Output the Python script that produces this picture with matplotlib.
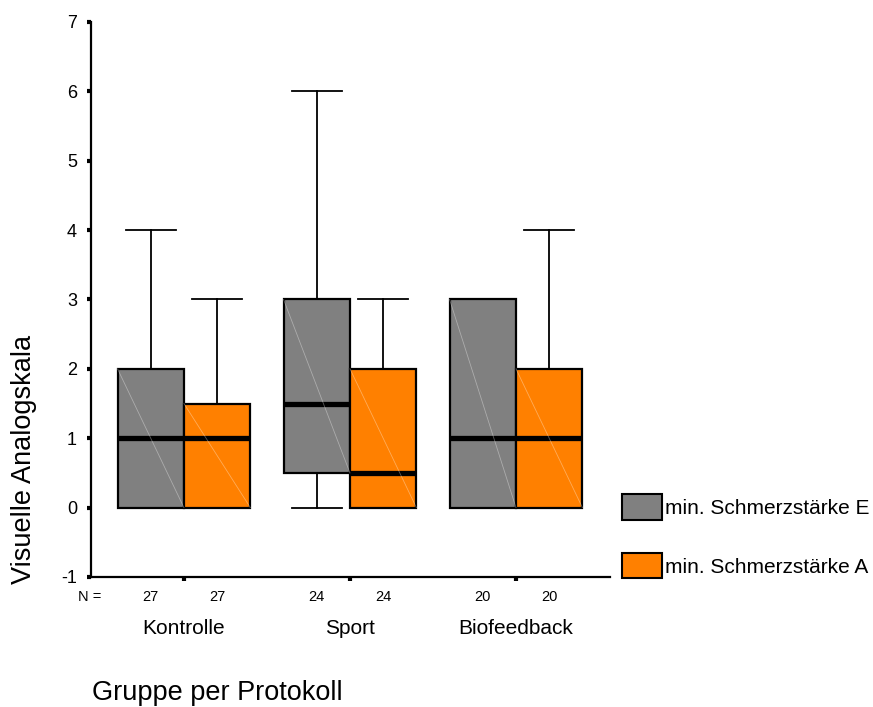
import matplotlib
matplotlib.use('Agg')
import matplotlib.pyplot as plt
from matplotlib.patches import Patch

plt.rcParams['font.family'] = ['Liberation Sans', 'DejaVu Sans']
plt.rcParams['axes.unicode_minus'] = False

groups = ['Kontrolle', 'Sport', 'Biofeedback']
n_counts = [27, 24, 20]

# min. Schmerzstaerke E
e_q1 = [0, 0.5, 0]
e_med = [1, 1.5, 1]
e_q3 = [2, 3, 3]
e_lo = [0, 0, 0]
e_hi = [4, 6, 3]

# min. Schmerzstaerke A
a_q1 = [0, 0, 0]
a_med = [1, 0.5, 1]
a_q3 = [1.5, 2, 2]
a_lo = [0, 0, 0]
a_hi = [3, 3, 4]

series_labels = ['min. Schmerzstärke E', 'min. Schmerzstärke A']
colors = ['#808080', '#ff8000']

fig = plt.figure(figsize=(8.73, 7.07), dpi=100)
ax = fig.add_axes([0.1042, 0.1839, 0.5945, 0.785])

centers = [1, 2, 3]
offset = 0.2
width = 0.4

series = [(e_q1, e_med, e_q3, e_lo, e_hi), (a_q1, a_med, a_q3, a_lo, a_hi)]
for k, (q1, med, q3, lo, hi) in enumerate(series):
    stats = []
    for i in range(len(groups)):
        stats.append(dict(q1=q1[i], med=med[i], q3=q3[i], whislo=lo[i], whishi=hi[i], fliers=[]))
    pos = [c + (offset if k else -offset) for c in centers]
    ax.bxp(stats, positions=pos, widths=width, capwidths=0.3, patch_artist=True,
           showfliers=False, manage_ticks=False,
           boxprops=dict(facecolor=colors[k], edgecolor='black', linewidth=1.6),
           medianprops=dict(color='black', linewidth=3.8, solid_capstyle='butt'),
           whiskerprops=dict(color='black', linewidth=1.3),
           capprops=dict(color='black', linewidth=1.3))
    # faint diagonal line inside each box
    for p, a, b in zip(pos, q1, q3):
        ax.plot([p - width / 2, p + width / 2], [b, a], color='white', alpha=0.35, lw=0.6, zorder=3)

ax.set_xlim(0.44, 3.566)
ax.set_ylim(-1, 7)
ax.set_yticks(range(-1, 8))
ax.set_xticks(centers)
ax.set_xticklabels([])
ax.tick_params(axis='y', direction='out', length=3, width=3, labelsize=13, pad=7)
ax.tick_params(axis='x', direction='out', length=3, width=3)
for s in ['top', 'right']:
    ax.spines[s].set_visible(False)
for s in ['left', 'bottom']:
    ax.spines[s].set_linewidth(1.6)

# N row and group names
ax.annotate('N =', xy=(0.44, 0), xycoords=('data', 'axes fraction'), xytext=(-9, -14.5),
            textcoords='offset points', ha='left', va='center', fontsize=10.5)
for c, n in zip(centers, n_counts):
    for sgn in (-1, 1):
        ax.annotate(str(n), xy=(c + sgn * offset, 0), xycoords=('data', 'axes fraction'),
                    xytext=(0, -14.5), textcoords='offset points', ha='center', va='center', fontsize=10.5)
for c, g in zip(centers, groups):
    ax.annotate(g, xy=(c, 0), xycoords=('data', 'axes fraction'), xytext=(0, -37),
                textcoords='offset points', ha='center', va='center', fontsize=15)

fig.text(0.105, 0.002, 'Gruppe per Protokoll', fontsize=19.5, ha='left', va='bottom')
fig.text(0.028, 0.35, 'Visuelle Analogskala', fontsize=19.5, rotation=90, ha='center', va='center')

handles = [Patch(facecolor=colors[0], edgecolor='black', linewidth=1.5),
           Patch(facecolor=colors[1], edgecolor='black', linewidth=1.5)]
fig.legend(handles, series_labels, loc='upper left', bbox_to_anchor=(0.713, 0.301),
           frameon=False, fontsize=15, handlelength=1.92, handleheight=1.5,
           handletextpad=0.1, labelspacing=1.6, borderpad=0, borderaxespad=0)

plt.savefig('out.png', dpi=100)
